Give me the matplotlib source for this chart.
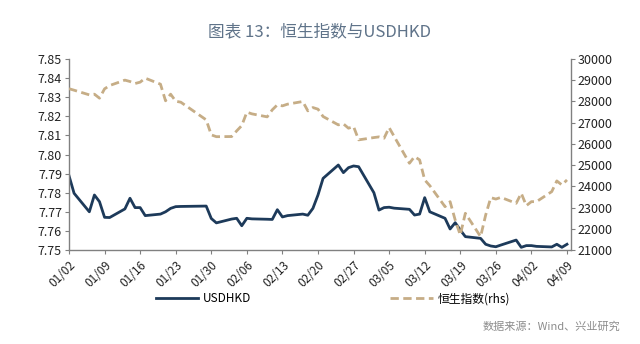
import numpy as np
import pandas as pd
import matplotlib
matplotlib.use("Agg")
import matplotlib.pyplot as plt
import matplotlib.dates as mdates

plt.rcParams['font.family'] = ['Noto Sans CJK SC', 'DejaVu Sans']

# 交易日
dates = pd.to_datetime([
    "2020-01-02", "2020-01-03", "2020-01-06", "2020-01-07", "2020-01-08", "2020-01-09", "2020-01-10",
    "2020-01-13", "2020-01-14", "2020-01-15", "2020-01-16", "2020-01-17",
    "2020-01-20", "2020-01-21", "2020-01-22", "2020-01-23", "2020-01-24",
    "2020-01-29", "2020-01-30", "2020-01-31",
    "2020-02-03", "2020-02-04", "2020-02-05", "2020-02-06", "2020-02-07",
    "2020-02-10", "2020-02-11", "2020-02-12", "2020-02-13", "2020-02-14",
    "2020-02-17", "2020-02-18", "2020-02-19", "2020-02-20", "2020-02-21",
    "2020-02-24", "2020-02-25", "2020-02-26", "2020-02-27", "2020-02-28",
    "2020-03-02", "2020-03-03", "2020-03-04", "2020-03-05", "2020-03-06",
    "2020-03-09", "2020-03-10", "2020-03-11", "2020-03-12", "2020-03-13",
    "2020-03-16", "2020-03-17", "2020-03-18", "2020-03-19", "2020-03-20",
    "2020-03-23", "2020-03-24", "2020-03-25", "2020-03-26", "2020-03-27",
    "2020-03-30", "2020-03-31", "2020-04-01", "2020-04-02", "2020-04-03",
    "2020-04-06", "2020-04-07", "2020-04-08", "2020-04-09",
])

usdhkd = [
    7.7889, 7.7797, 7.7700, 7.7788, 7.7753, 7.7671, 7.7670,
    7.7715, 7.7771, 7.7722, 7.7722, 7.7680,
    7.7688, 7.7700, 7.7718, 7.7727, 7.7728,
    7.7730, 7.7665, 7.7642,
    7.7662, 7.7666, 7.7627, 7.7666, 7.7663,
    7.7661, 7.7660, 7.7711, 7.7673, 7.7680,
    7.7688, 7.7682, 7.7718, 7.7788, 7.7875,
    7.7945, 7.7905, 7.7931, 7.7940, 7.7936,
    7.7800, 7.7709, 7.7722, 7.7724, 7.7719,
    7.7713, 7.7683, 7.7688, 7.7774, 7.7700,
    7.7666, 7.7610, 7.7643, 7.7605, 7.7570,
    7.7561, 7.7530, 7.7521, 7.7517, 7.7526,
    7.7552, 7.7514, 7.7523, 7.7523, 7.7519,
    7.7516, 7.7530, 7.7514, 7.7530,
]

hsi = [
    28600, 28530, 28310, 28343, 28154, 28594, 28750,
    29005, 28940, 28845, 28909, 29097,
    28814, 28030, 28343, 28010, 27965,
    27132, 26425, 26340,
    26346, 26613, 26863, 27495, 27415,
    27274, 27604, 27840, 27792, 27871,
    27997, 27557, 27712, 27636, 27290,
    26896, 26943, 26739, 26817, 26189,
    26298, 26330, 26267, 26769, 26346,
    25088, 25401, 25245, 24302, 24033,
    23042, 23278, 22415, 21708, 22730,
    21629, 22650, 23467, 23400, 23480,
    23200, 23673, 23090, 23278, 23278,
    23750, 24255, 24066, 24302,
]

tick_dates = pd.date_range("2020-01-02", "2020-04-09", freq="7D")

fig = plt.figure(figsize=(6.4, 3.44), dpi=100)
ax = fig.add_axes([69 / 640, 1 - 250 / 344, (571 - 69) / 640, (250 - 59) / 344])
ax2 = ax.twinx()

navy = "#1d3a5a"
tan = "#c6ad86"
grey = "#808080"

l1, = ax.plot(dates, usdhkd, color=navy, lw=2.0, label="USDHKD")
l2, = ax2.plot(dates, hsi, color=tan, lw=2.0, ls=(0, (3.0, 1.6)), label="恒生指数(rhs)")

ax.set_ylim(7.75, 7.85)
ax.set_yticks(np.arange(7.75, 7.8501, 0.01))
ax.set_yticklabels([f"{v:.2f}" for v in np.arange(7.75, 7.8501, 0.01)])
ax2.set_ylim(21000, 30000)
ax2.set_yticks(np.arange(21000, 30001, 1000))

ax.set_xlim(pd.Timestamp("2020-01-02"), pd.Timestamp("2020-04-09") + pd.Timedelta(hours=19))
ax.set_xticks(tick_dates)
ax.xaxis.set_major_formatter(mdates.DateFormatter("%m/%d"))
plt.setp(ax.get_xticklabels(), rotation=45, ha="right", rotation_mode="anchor")

for a in (ax, ax2):
    a.spines["top"].set_visible(False)
    for s in ("left", "right", "bottom"):
        a.spines[s].set_color(grey)
        a.spines[s].set_linewidth(1.0)
    a.tick_params(axis="both", which="major", direction="out", length=3,
                  color=grey, labelsize=9, labelcolor="#222222", pad=2)
ax.spines["right"].set_visible(False)
ax2.spines["left"].set_visible(False)
ax2.spines["bottom"].set_visible(False)
ax.tick_params(axis="x", labelsize=8.5, pad=3)

fig.text(0.5, 1 - 32 / 344, "图表 13：恒生指数与USDHKD", ha="center", va="center",
         fontsize=12, color="#5f7389")

fig.legend(handles=[l1, l2], loc="center", bbox_to_anchor=(0.52, 1 - 299 / 344),
           ncol=2, frameon=False, fontsize=8.5, handlelength=3.6, columnspacing=11.8,
           handletextpad=0.4)

fig.text(620 / 640, 1 - 327 / 344, "数据来源：Wind、兴业研究", ha="right", va="center",
         fontsize=8, color="#8c8c8c")

fig.savefig("out.png", dpi=100)
